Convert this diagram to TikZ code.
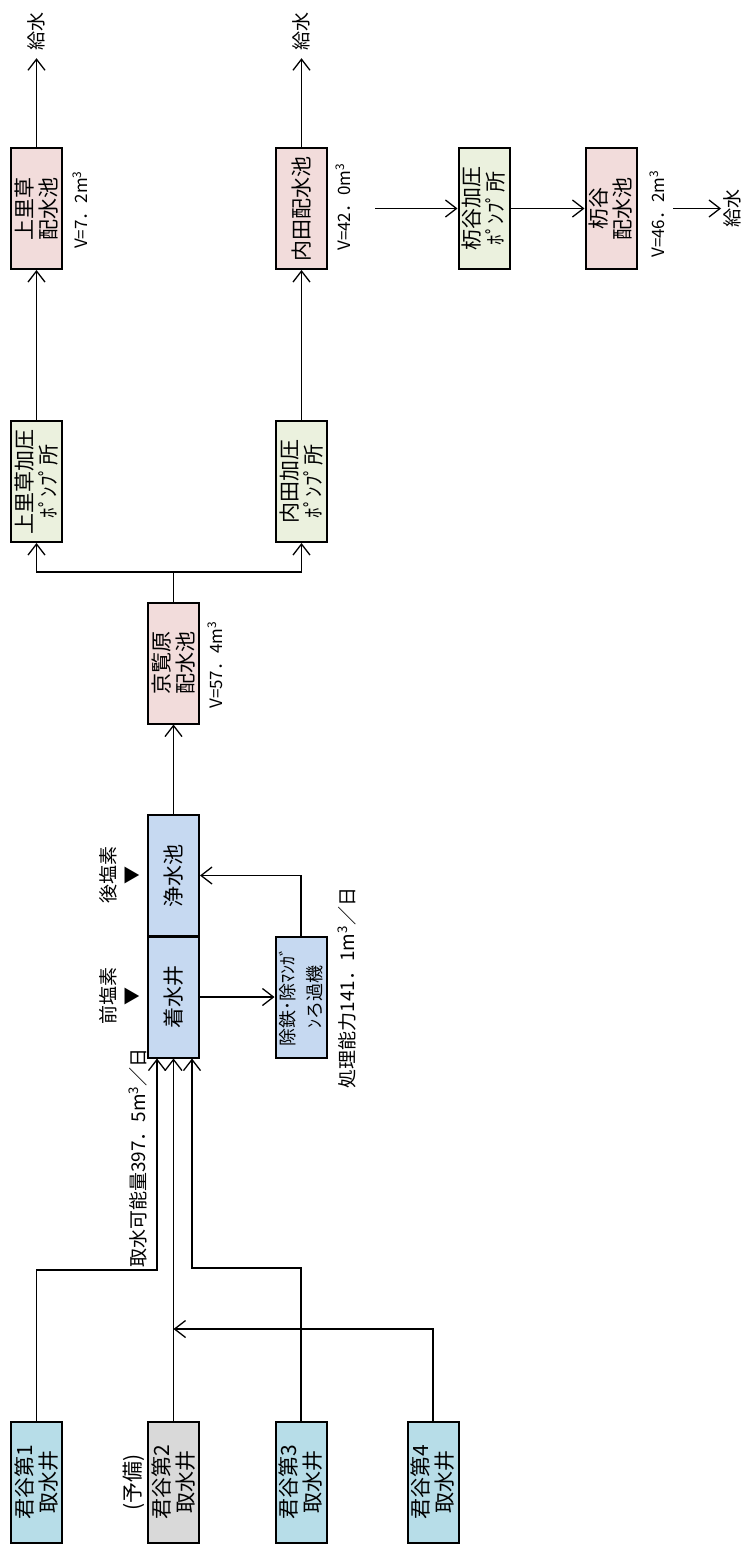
\documentclass[tikz,border=0pt]{standalone}
\usepackage{fontspec}
\setmainfont{Noto Sans CJK JP}
\usetikzlibrary{arrows.meta}
\definecolor{wellblue}{RGB}{183,221,232}
\definecolor{sparegray}{RGB}{217,217,217}
\definecolor{plantblue}{RGB}{198,217,241}
\definecolor{tankpink}{RGB}{242,220,219}
\definecolor{pumpgreen}{RGB}{235,241,222}

\begin{document}
\begin{tikzpicture}[x=1pt, y=-1pt,
    >={Straight Barb[length=11pt,width=17pt]},
    box/.style={draw, line width=2pt, rotate=90, inner sep=0pt,
        minimum width=121pt, minimum height=51pt, align=center,
        font=\fontsize{21}{24}\selectfont},
    well/.style={box, fill=wellblue},
    plant/.style={box, fill=plantblue},
    tank/.style={box, fill=tankpink},
    pump/.style={box, fill=pumpgreen},
    lbl/.style={rotate=90, inner sep=1pt, font=\fontsize{19}{22}\selectfont},
    vol/.style={rotate=90, inner sep=1pt, font=\fontsize{17}{19}\selectfont},
    pipe/.style={line width=1.3pt}]
    \useasboundingbox (0,0) rectangle (748,1551);

    % Intake wells
    \node[well] (w1) at (36.5,1482) {君谷第1\\取水井};
    \node[box, fill=sparegray] (w2) at (173.5,1482) {君谷第2\\取水井};
    \node[well] (w3) at (301,1482) {君谷第3\\取水井};
    \node[well] (w4) at (433,1482) {君谷第4\\取水井};
    \node[lbl, font=\fontsize{21}{24}\selectfont] (yb) at (134,1482) {(予備)};

    % Treatment
    \node[plant] (ch) at (173.5,997) {着水井};
    \node[plant] (jo) at (173.5,875.5) {浄水池};
    \node[plant, font=\fontsize{18}{27}\selectfont] (ro) at (301,997) {除鉄･除ﾏﾝｶﾞ\\ﾝろ過機};
    \node[lbl, align=center] (c1) at (120,996) {前塩素\\[1pt]{\fontsize{18}{18}\selectfont ▼}};
    \node[lbl, align=center] (c2) at (120,875) {後塩素\\[1pt]{\fontsize{18}{18}\selectfont ▼}};
    \node[lbl] (q1) at (138,1158) {取水可能量397．5m\textsuperscript{3}／日};
    \node[lbl] (q2) at (347,988) {処理能力141．1m\textsuperscript{3}／日};

    % Reservoirs and pump stations
    \node[tank] (ky) at (173.5,663) {京覧原\\配水池};
    \node[pump] (kp) at (36.5,481.5) {上里草加圧\\ﾎﾟﾝﾌﾟ所};
    \node[pump] (up) at (301.5,481.5) {内田加圧\\ﾎﾟﾝﾌﾟ所};
    \node[tank] (kh) at (36.5,208.5) {上里草\\配水池};
    \node[tank] (uh) at (301.5,208.5) {内田配水池};
    \node[pump] (tp) at (484,208.5) {杤谷加圧\\ﾎﾟﾝﾌﾟ所};
    \node[tank] (th) at (611,208.5) {杤谷\\配水池};

    % Volumes
    \node[vol] (v1) at (80,210) {V=7．2m\textsuperscript{3}};
    \node[vol] (v2) at (343,207) {V=42．0m\textsuperscript{3}};
    \node[vol] (v3) at (657,214) {V=46．2m\textsuperscript{3}};
    \node[vol] (v4) at (215,665) {V=57．4m\textsuperscript{3}};

    % Supply ends
    \node[lbl, inner sep=8pt] (g1) at (36.5,31) {給水};
    \node[lbl, inner sep=8pt] (g2) at (301.5,31) {給水};
    \node[lbl, inner sep=2pt] (g3) at (732,208.5) {給水};

    % Well pipes
    \coordinate (j1) at (157,1270);
    \coordinate (j3) at (192,1268);
    \coordinate (j4) at (433,1329);
    \draw[pipe,->] (w1.east) |- (j1) -- (j1 |- ch.west);
    \draw[pipe,->] (w2.east) -- (w2.east |- ch.west);
    \draw[pipe,->] (w3.east) |- (j3) -- (j3 |- ch.west);
    \draw[pipe,->] (w4.east) -- (j4) -- (j4 -| w2.east);

    % Plant pipes
    \draw[pipe,->] (ch.south) -- (ro.north);
    \draw[pipe,->] (ro.east) |- (jo.south);
    \draw[pipe,->] (jo.east) -- (ky.west);

    % Distribution
    \coordinate (sp) at (173.5,572);
    \draw[pipe] (ky.east) -- (sp);
    \draw[pipe,->] (sp) -| (kp.west);
    \draw[pipe,->] (sp) -| (up.west);
    \draw[pipe,->] (kp.east) -- (kh.west);
    \draw[pipe,->] (up.east) -- (uh.west);
    \draw[pipe,->] (kh.east) -- (g1);
    \draw[pipe,->] (uh.east) -- (g2);
    \coordinate (t0) at (375,208.5);
    \coordinate (t1) at (673,208.5);
    \draw[pipe,->] (t0) -- (tp.north);
    \draw[pipe,->] (tp.south) -- (th.north);
    \draw[pipe,->] (t1) -- (g3);
\end{tikzpicture}
\end{document}
